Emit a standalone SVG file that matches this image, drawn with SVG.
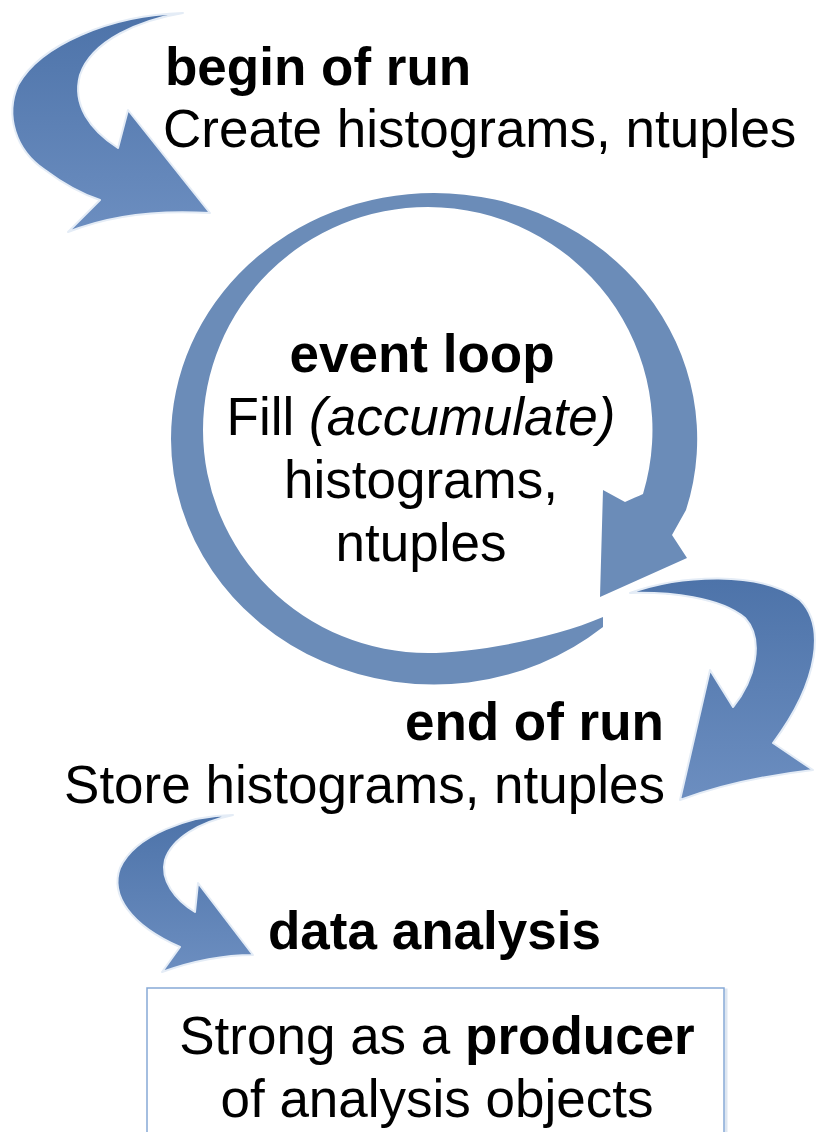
<svg xmlns="http://www.w3.org/2000/svg" width="817" height="1132" viewBox="0 0 817 1132">
<style>
.t{font-family:"Liberation Sans",Arial,sans-serif;font-size:53px;fill:#000}
.b{font-weight:bold}
.i{font-style:italic}
.arr{fill:url(#ag);stroke:#e4ecf6;stroke-width:2;stroke-linejoin:round}
.ring{fill:#6b8cb8}
</style>
<defs>
<linearGradient id="ag" x1="0" y1="0" x2="0" y2="1">
<stop offset="0" stop-color="#4d73a9"/>
<stop offset="1" stop-color="#6c8ec0"/>
</linearGradient>
</defs>
<rect width="817" height="1132" fill="#fff"/>
<g id="connectors">
<path id="loop" class="ring" d="M603,627 A263,246 0 0 1 171,439 A263,246 0 0 1 434,193 A263,246 0 0 1 686,510 L672,535 L687,558 L600,597 L603,490 L625,502 Q636,497 643,494 A225,223 0 0 0 428,207 A225,223 0 0 0 203,430 A225,223 0 0 0 428,653 C470,653 550,640 603,617 Z"/>
<path id="arrow-begin" class="arr" d="M183,13 C110,15 40,45 18,85 C5,115 15,150 45,170 C65,185 85,195 100,200 L68,232 C110,215 160,210 210,213 L128,110 L118,148 C90,130 72,105 80,75 C92,40 140,20 183,13 Z"/>
<path id="arrow-end" class="arr" d="M630,593 C680,575 760,570 800,600 C825,625 820,680 773,743 L813,770 C770,775 720,785 680,800 L710,670 L733,707 C755,680 765,640 745,618 C720,597 670,592 630,593 Z"/>
<path id="arrow-analysis" class="arr" d="M233,815 C190,815 135,835 120,868 C110,895 130,925 180,947 L162,972 C190,962 220,955 253,955 L198,883 L195,912 C175,900 160,880 165,860 C172,838 200,822 233,815 Z"/>
</g>
<g id="begin-of-run">
<text class="t b" x="165" y="85">begin of run</text>
<text class="t" x="163" y="147">Create histograms, ntuples</text>
</g>
<g id="event-loop" text-anchor="middle">
<text class="t b" x="422" y="372">event loop</text>
<text class="t" x="421" y="435">Fill <tspan class="i">(accumulate)</tspan></text>
<text class="t" x="421" y="498">histograms,</text>
<text class="t" x="421" y="561">ntuples</text>
</g>
<g id="end-of-run" text-anchor="end">
<text class="t b" x="664" y="740">end of run</text>
<text class="t" x="665" y="803">Store histograms, ntuples</text>
</g>
<g id="data-analysis">
<text class="t b" x="268" y="949">data analysis</text>
</g>
<g id="producer-box">
<rect x="149" y="990" width="577" height="160" fill="none" stroke="#dde6f1" stroke-width="3"/>
<rect x="147" y="988" width="577" height="160" fill="#fff" stroke="#86a9d6" stroke-width="1.5"/>
<text class="t" x="437" y="1054" text-anchor="middle">Strong as a <tspan class="b">producer</tspan></text>
<text class="t" x="437" y="1117" text-anchor="middle">of analysis objects</text>
</g>
</svg>
